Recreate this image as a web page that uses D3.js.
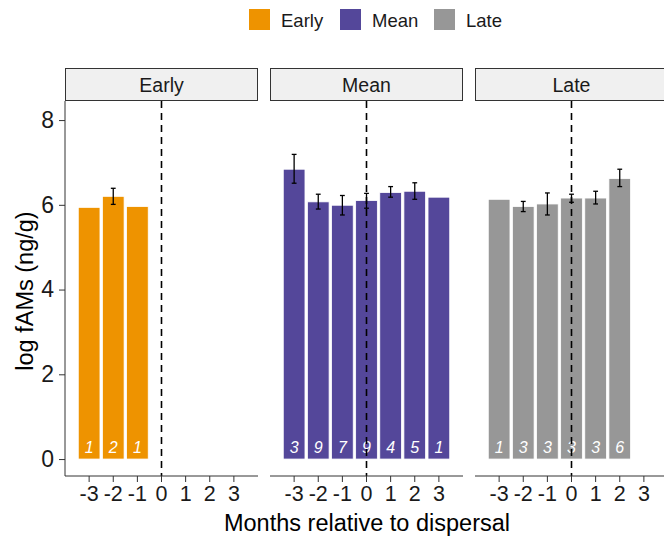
<!DOCTYPE html>
<html>
<head>
<meta charset="utf-8">
<style>
	body{ margin:0; background:#fff; }
	svg{ font-family: "Liberation Sans", Arial, sans-serif; }
</style>
</head>
<body>
<script src="https://cdn.jsdelivr.net/npm/d3@7"></script>
<script>

	var groups = ["Early", "Mean", "Late"];
	var colors = ["#EE9300", "#54479A", "#979797"];
	var months = [-3, -2, -1, 0, 1, 2, 3];
	var yTicks = [0, 2, 4, 6, 8];

	// per group: month, mean, lower, upper (null = no error bar), n
	var earlyMonth = [-3, -2, -1];
	var earlyMean  = [5.94, 6.20, 5.96];
	var earlyLo    = [null, 6.01, null];
	var earlyHi    = [null, 6.39, null];
	var earlyN     = [1, 2, 1];

	var meanMonth = [-3, -2, -1, 0, 1, 2, 3];
	var meanMean  = [6.84, 6.07, 5.99, 6.10, 6.29, 6.32, 6.18];
	var meanLo    = [6.51, 5.90, 5.76, 5.92, 6.18, 6.13, null];
	var meanHi    = [7.19, 6.25, 6.22, 6.27, 6.43, 6.52, null];
	var meanN     = [3, 9, 7, 9, 4, 5, 1];

	var lateMonth = [-3, -2, -1, 0, 1, 2];
	var lateMean  = [6.13, 5.96, 6.02, 6.16, 6.16, 6.62];
	var lateLo    = [null, 5.84, 5.76, 6.06, 6.02, 6.43];
	var lateHi    = [null, 6.08, 6.28, 6.25, 6.32, 6.84];
	var lateN     = [1, 3, 3, 3, 3, 6];

	function rows(m, v, lo, hi, n){
		return m.map(function(d, i){
			return {month: d, value: v[i], lo: lo[i], hi: hi[i], n: n[i]};
		});
	}
	var data = [
		rows(earlyMonth, earlyMean, earlyLo, earlyHi, earlyN),
		rows(meanMonth, meanMean, meanLo, meanHi, meanN),
		rows(lateMonth, lateMean, lateLo, lateHi, lateN)
	];

	var width = 664, height = 539;
	var panelW = 193, panelGap = 12, panelLeft = 65;
	var panelTop = 101, panelBottom = 476;
	var stripTop = 68;

	var svg = d3.select("body").append("svg")
		.attr("width", width)
		.attr("height", height);

	var y = d3.scaleLinear()
		.domain([-0.4, 8.45])
		.range([panelBottom, panelTop]);

	// y axis
	var yAxis = svg.append("g")
		.attr("transform", "translate(" + panelLeft + ",0)")
		.call(d3.axisLeft(y).tickValues(yTicks).tickSize(6).tickPadding(5));
	yAxis.select(".domain").attr("d", "M0," + panelTop + "V" + panelBottom).attr("stroke", "#333");
	yAxis.selectAll(".tick line").attr("stroke", "#333");
	yAxis.selectAll("text").attr("font-size", 23).attr("fill", "#1a1a1a");

	svg.append("text")
		.attr("transform", "translate(33,291) rotate(-90)")
		.attr("text-anchor", "middle")
		.attr("font-size", 23.5)
		.attr("fill", "#000")
		.text("log fAMs (ng/g)");

	groups.forEach(function(name, gi){
		var x0 = panelLeft + gi * (panelW + panelGap);
		var x = d3.scaleBand()
			.domain(months)
			.range([x0, x0 + panelW])
			.paddingInner(0.1)
			.paddingOuter(0.55);
		var step = x.step();
		var cx = function(m){ return x(m) + x.bandwidth() / 2; };

		var g = svg.append("g");

		// strip
		g.append("rect")
			.attr("x", x0 + 0.5)
			.attr("y", stripTop + 0.5)
			.attr("width", panelW - 1)
			.attr("height", panelTop - stripTop - 1)
			.attr("fill", "#F0F0F0")
			.attr("stroke", "#333")
			.attr("stroke-width", 1);
		g.append("text")
			.attr("x", x0 + panelW / 2)
			.attr("y", (stripTop + panelTop) / 2 + 7)
			.attr("text-anchor", "middle")
			.attr("font-size", 19.5)
			.attr("fill", "#1a1a1a")
			.text(name);

		// bars
		g.selectAll(".bar")
			.data(data[gi])
			.enter().append("rect")
			.attr("class", "bar")
			.attr("x", function(d){ return x(d.month); })
			.attr("width", x.bandwidth())
			.attr("y", function(d){ return y(d.value); })
			.attr("height", function(d){ return y(0) - y(d.value); })
			.attr("fill", colors[gi])
			.attr("stroke", "#fff")
			.attr("stroke-width", 0.8);

		// n labels
		g.selectAll(".n")
			.data(data[gi])
			.enter().append("text")
			.attr("x", function(d){ return cx(d.month); })
			.attr("y", y(0) - 6)
			.attr("text-anchor", "middle")
			.attr("font-size", 16)
			.attr("font-style", "italic")
			.attr("fill", "#fff")
			.text(function(d){ return d.n; });

		// error bars
		var eb = g.selectAll(".err")
			.data(data[gi].filter(function(d){ return d.lo !== null; }))
			.enter().append("g")
			.attr("stroke", "#000")
			.attr("stroke-width", 1.3);
		var cap = step * 0.1;
		eb.append("line")
			.attr("x1", function(d){ return cx(d.month); })
			.attr("x2", function(d){ return cx(d.month); })
			.attr("y1", function(d){ return y(d.lo); })
			.attr("y2", function(d){ return y(d.hi); });
		eb.append("line")
			.attr("x1", function(d){ return cx(d.month) - cap; })
			.attr("x2", function(d){ return cx(d.month) + cap; })
			.attr("y1", function(d){ return y(d.lo); })
			.attr("y2", function(d){ return y(d.lo); });
		eb.append("line")
			.attr("x1", function(d){ return cx(d.month) - cap; })
			.attr("x2", function(d){ return cx(d.month) + cap; })
			.attr("y1", function(d){ return y(d.hi); })
			.attr("y2", function(d){ return y(d.hi); });

		// dashed line at 0
		g.append("line")
			.attr("x1", cx(0))
			.attr("x2", cx(0))
			.attr("y1", panelTop)
			.attr("y2", panelBottom)
			.attr("stroke", "#000")
			.attr("stroke-width", 1.6)
			.attr("stroke-dasharray", "7,5");

		// x axis (plain hyphen for negatives)
		var xa = g.append("g")
			.attr("transform", "translate(0," + panelBottom + ")")
			.call(d3.axisBottom(x).tickSize(6).tickPadding(4)
				.tickFormat(function(d){ return String(d); }));
		xa.select(".domain").attr("d", "M" + x0 + ",0H" + (x0 + panelW)).attr("stroke", "#333");
		xa.selectAll(".tick line").attr("stroke", "#333");
		xa.selectAll("text").attr("font-size", 21.5).attr("fill", "#1a1a1a");
	});

	svg.append("text")
		.attr("x", 367)
		.attr("y", 531)
		.attr("text-anchor", "middle")
		.attr("font-size", 23.5)
		.attr("fill", "#000")
		.text("Months relative to dispersal");

	// legend
	var legX = [249, 340, 434];
	var leg = svg.selectAll(".leg")
		.data(groups)
		.enter().append("g")
		.attr("transform", function(d, i){ return "translate(" + legX[i] + ",9)"; });
	leg.append("rect")
		.attr("width", 21)
		.attr("height", 21)
		.attr("fill", function(d, i){ return colors[i]; });
	leg.append("text")
		.attr("x", 32)
		.attr("y", 17.5)
		.attr("font-size", 18.5)
		.attr("fill", "#1a1a1a")
		.text(function(d){ return d; });

</script>
</body>
</html>
